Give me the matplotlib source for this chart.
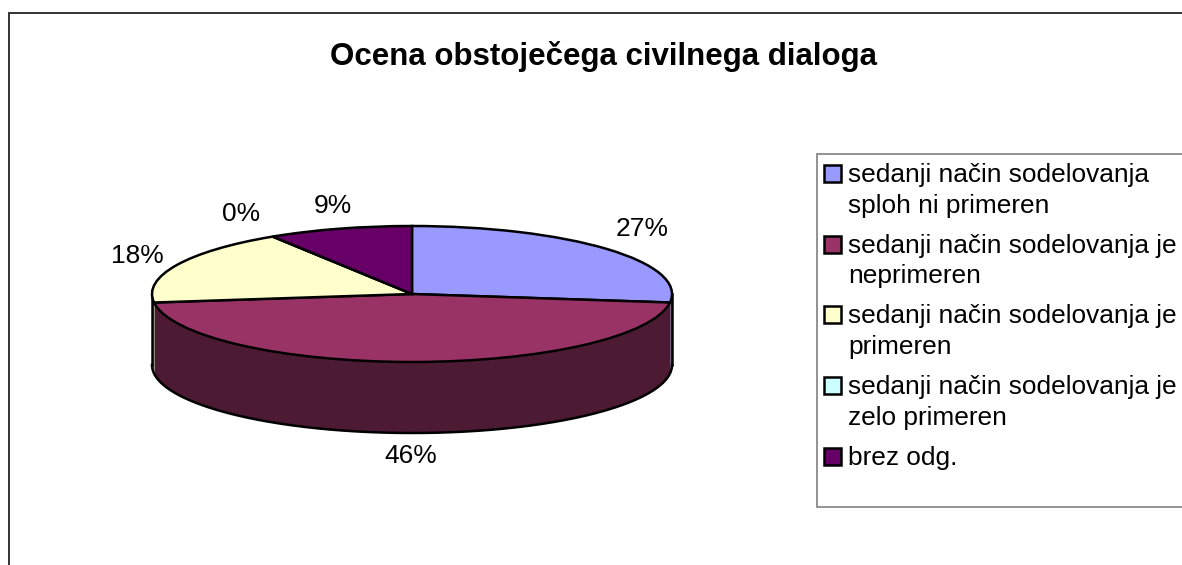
import numpy as np
import matplotlib.pyplot as plt
from matplotlib.patches import Rectangle

plt.rcParams['font.family'] = ['Liberation Sans', 'DejaVu Sans']

title = 'Ocena obstoječega civilnega dialoga'
legend_labels = ['sedanji način sodelovanja\nsploh ni primeren',
                 'sedanji način sodelovanja je\nneprimeren',
                 'sedanji način sodelovanja je\nprimeren',
                 'sedanji način sodelovanja je\nzelo primeren',
                 'brez odg.']
shares = [27, 46, 18, 0, 9]
colors = ['#9999FF', '#993366', '#FFFFCC', '#CCFFFF', '#660066']
side_colors = ['#4D4D80', '#4D1A33', '#808066', '#668080', '#330033']
label_pos = [(642, 229), (411, 456), (137, 256), (241, 214), (333, 206)]

W, H = 1182, 565
fig = plt.figure(figsize=(W / 100, H / 100), dpi=100, facecolor='white')

# whole figure in pixels, for frame, title and legend
bg = fig.add_axes([0, 0, 1, 1])
bg.set_xlim(0, W)
bg.set_ylim(H, 0)
bg.axis('off')
bg.add_patch(Rectangle((8.5, 12.5), W, H, fc='white', ec='#333333', lw=1.4))
bg.text(603, 57, title, ha='center', va='center', fontsize=22.5, fontweight='bold', color='black')

# legend, drawn by hand because the box runs off the picture
bg.add_patch(Rectangle((816.5, 153.5), W, 353, fc='white', ec='#808080', lw=1.2))
y = 175
for lab, col in zip(legend_labels, colors):
    lines = lab.split('\n')
    bg.add_patch(Rectangle((824, y - 10), 17, 17, fc=col, ec='black', lw=1.8))
    for k, line in enumerate(lines):
        bg.text(848, y + k * 30.5, line, ha='left', va='center', fontsize=18.9, color='black')
    y += 70.7

for pct, (px, py) in zip(shares, label_pos):
    bg.text(px, py, f'{pct}%', ha='center', va='center', fontsize=19, color='black')

# pie: unit circle squashed to an ellipse by the axes shape
left, right, top, mid_bottom, bottom = 152, 672, 226, 362, 433
ry_px = (mid_bottom - top) / 2
depth = (bottom - mid_bottom) / ry_px
ax = fig.add_axes([left / W, 1 - bottom / H, (right - left) / W, (bottom - top) / H])
ax.patch.set_alpha(0)

# side wall, only the front half of the ellipse shows
edges = 90 - np.cumsum([0] + shares) * 3.6
for i, col in enumerate(side_colors):
    # slice angles run clockwise, keep only the part in 180..360
    lo, hi = edges[i + 1], edges[i]
    for shift in (0, 360):
        a = max(lo + shift, 180)
        b = min(hi + shift, 360)
        if b > a:
            t = np.radians(np.linspace(a, b, 200))
            ax.fill_between(np.cos(t), np.sin(t), np.sin(t) - depth, color=col, lw=0, zorder=1)
t = np.radians(np.linspace(180, 360, 300))
ax.plot(np.cos(t), np.sin(t) - depth, color='black', lw=1.8, zorder=2)
ax.plot([-1, -1], [0, -depth], color='black', lw=1.8, zorder=2)
ax.plot([1, 1], [0, -depth], color='black', lw=1.8, zorder=2)

ax.pie(shares, colors=colors, startangle=90, counterclock=False, radius=1,
       wedgeprops=dict(edgecolor='black', linewidth=1.8, zorder=3))
ax.set_aspect('auto')
ax.set_xlim(-1, 1)
ax.set_ylim(-1 - depth, 1)
ax.axis('off')
for art in ax.get_children():
    art.set_clip_on(False)

fig.savefig('out.png', dpi=100)
